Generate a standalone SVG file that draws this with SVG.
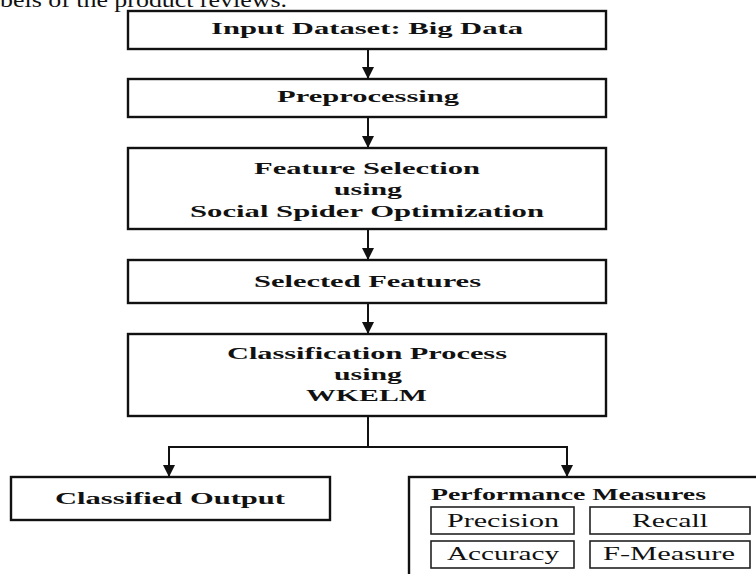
<svg xmlns="http://www.w3.org/2000/svg" width="756" height="574" viewBox="0 0 756 574">
<style>
.box{fill:#fff;stroke:#111;stroke-width:2.4}
.ibox{fill:#fff;stroke:#222;stroke-width:1.6}
.b{font-family:"Liberation Serif","Times New Roman",serif;font-weight:bold;font-size:16.5px;fill:#111}
.r{font-family:"Liberation Serif","Times New Roman",serif;font-size:18px;fill:#111}
.top{font-family:"Liberation Serif","Times New Roman",serif;font-size:22px;fill:#111}
.c{fill:none;stroke:#111;stroke-width:2}
</style>
<defs>
<marker id="ah" markerUnits="userSpaceOnUse" markerWidth="14" markerHeight="12" refX="12" refY="6" orient="auto">
<path d="M0,0 L12,6 L0,12 z" fill="#111"/>
</marker>
</defs>
<rect width="756" height="574" fill="#fff"/>
<text class="top" x="0" y="7" textLength="287" lengthAdjust="spacingAndGlyphs">bels of the product reviews.</text>
<g id="connectors">
<line class="c" x1="368" y1="49" x2="368" y2="79" marker-end="url(#ah)"/>
<line class="c" x1="368" y1="117" x2="368" y2="148" marker-end="url(#ah)"/>
<line class="c" x1="368" y1="229" x2="368" y2="260" marker-end="url(#ah)"/>
<line class="c" x1="368" y1="303" x2="368" y2="334" marker-end="url(#ah)"/>
<polyline class="c" points="368,416 368,447"/>
<polyline class="c" points="169,447 567,447"/>
<line class="c" x1="169" y1="446" x2="169" y2="477" marker-end="url(#ah)"/>
<line class="c" x1="567" y1="446" x2="567" y2="477" marker-end="url(#ah)"/>
</g>
<g id="input">
<rect class="box" x="128" y="11" width="478" height="38"/>
<text class="b" x="211" y="34" textLength="312" lengthAdjust="spacingAndGlyphs">Input Dataset: Big Data</text>
</g>
<g id="preprocessing">
<rect class="box" x="128" y="79" width="478" height="38"/>
<text class="b" x="277" y="102" textLength="182" lengthAdjust="spacingAndGlyphs">Preprocessing</text>
</g>
<g id="feature-selection">
<rect class="box" x="128" y="148" width="478" height="81"/>
<text class="b" x="254" y="174" textLength="226" lengthAdjust="spacingAndGlyphs">Feature Selection</text>
<text class="b" x="334" y="195" textLength="68" lengthAdjust="spacingAndGlyphs">using</text>
<text class="b" x="190" y="217" textLength="354" lengthAdjust="spacingAndGlyphs">Social Spider Optimization</text>
</g>
<g id="selected-features">
<rect class="box" x="128" y="260" width="478" height="43"/>
<text class="b" x="254" y="287" textLength="227" lengthAdjust="spacingAndGlyphs">Selected Features</text>
</g>
<g id="classification">
<rect class="box" x="128" y="334" width="478" height="82"/>
<text class="b" x="227" y="359" textLength="280" lengthAdjust="spacingAndGlyphs">Classification Process</text>
<text class="b" x="334" y="380" textLength="68" lengthAdjust="spacingAndGlyphs">using</text>
<text class="b" x="306" y="401" textLength="121" lengthAdjust="spacingAndGlyphs">WKELM</text>
</g>
<g id="classified-output">
<rect class="box" x="11" y="477" width="319" height="43"/>
<text class="b" x="55" y="504" textLength="230" lengthAdjust="spacingAndGlyphs">Classified Output</text>
</g>
<g id="performance">
<rect class="box" x="409" y="477" width="360" height="110"/>
<text class="b" x="431" y="500" textLength="275" lengthAdjust="spacingAndGlyphs">Performance Measures</text>
<rect class="ibox" x="431" y="507" width="143" height="27"/>
<text class="r" x="447" y="527" textLength="112" lengthAdjust="spacingAndGlyphs">Precision</text>
<rect class="ibox" x="590" y="507" width="160" height="27"/>
<text class="r" x="632" y="527" textLength="76" lengthAdjust="spacingAndGlyphs">Recall</text>
<rect class="ibox" x="431" y="541" width="143" height="27"/>
<text class="r" x="447" y="560" textLength="112" lengthAdjust="spacingAndGlyphs">Accuracy</text>
<rect class="ibox" x="590" y="541" width="160" height="27"/>
<text class="r" x="603" y="560" textLength="132" lengthAdjust="spacingAndGlyphs">F-Measure</text>
</g>
</svg>
